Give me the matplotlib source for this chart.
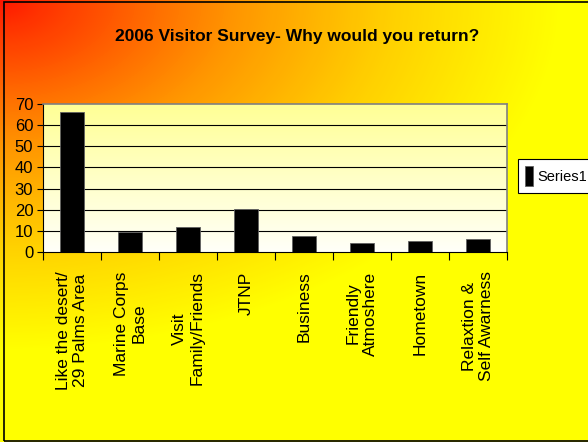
import numpy as np
import matplotlib.pyplot as plt
from matplotlib.colors import LinearSegmentedColormap
from matplotlib.patches import Rectangle
from matplotlib.legend_handler import HandlerPatch

# survey answers
reasons = [
    "Like the desert/\n29 Palms Area",
    "Marine Corps\nBase",
    "Visit\nFamily/Friends",
    "JTNP",
    "Business",
    "Friendly\nAtmoshere",
    "Hometown",
    "Relaxtion &\nSelf Awarness",
]
responses = [66, 9.5, 12, 20.5, 7.7, 4.4, 5.4, 6]
yticks = [0, 10, 20, 30, 40, 50, 60, 70]

narrow = ["Liberation Sans Narrow", "Liberation Sans", "DejaVu Sans"]

fig = plt.figure(figsize=(5.88, 4.42), dpi=100)

# red -> orange -> yellow corner gradient behind everything
bg = fig.add_axes([0, 0, 1, 1], zorder=-10)
W, H = 588, 442
xx, yy = np.meshgrid(np.arange(W), np.arange(H))
t = np.clip(np.sqrt((xx / 560.0) ** 2 + (yy / 350.0) ** 2), 0, 1) ** 0.8
warm = LinearSegmentedColormap.from_list(
    "warm", ["#ff1400", "#ff5000", "#ff9600", "#ffd000", "#ffff00"])
bg.imshow(t, cmap=warm, aspect="auto", extent=[0, 1, 0, 1], origin="upper")
bg.set_axis_off()
bg.set_xlim(0, 1)
bg.set_ylim(0, 1)
fig.patches.append(Rectangle((3.5 / W, 1.5 / H), 1.2, 1 - 3.5 / H,
                             transform=fig.transFigure, fill=False,
                             edgecolor="black", linewidth=1.2))

ax = fig.add_axes([43 / W, 1 - 252 / H, 464 / W, 148 / H])
x = np.arange(len(reasons))
ax.set_xlim(-0.5, len(reasons) - 0.5)
ax.set_ylim(0, 70)

# plot area: pale yellow fading to white toward the bottom
fade = LinearSegmentedColormap.from_list("fade", ["#fffff8", "#ffff96"])
ax.imshow(np.linspace(0, 1, 100).reshape(-1, 1), cmap=fade, aspect="auto",
          extent=[-0.5, len(reasons) - 0.5, 0, 70], origin="lower", zorder=0)

for yv in yticks[1:-1]:
    ax.axhline(yv, color="black", linewidth=0.8, zorder=1)

bars = ax.bar(x, responses, width=0.4, color="black", edgecolor="#606060",
              linewidth=0.6, zorder=2, label="Series1")

ax.set_yticks(yticks)
ax.set_yticklabels([str(v) for v in yticks], fontsize=12, family=narrow)
ax.tick_params(axis="y", direction="out", length=4, width=0.8, pad=3)

ax.set_xticks(x)
ax.set_xticklabels(reasons, rotation=90, fontsize=12.5, family=narrow,
                   ha="center", va="top", multialignment="center")
ax.tick_params(axis="x", which="major", length=0, pad=14)
ax.set_xticks(np.arange(len(reasons) + 1) - 0.5, minor=True)
ax.tick_params(axis="x", which="minor", direction="out", length=6, width=0.8)

for side in ("left", "bottom"):
    ax.spines[side].set_color("black")
for side in ("top", "right"):
    ax.spines[side].set_color("#808080")
    ax.spines[side].set_linewidth(1.2)

fig.text(297 / W, 1 - 37 / H, "2006 Visitor Survey- Why would you return?",
         ha="center", va="center", fontsize=12.5, fontweight="bold", family=narrow)


def small_square(legend, orig_handle, xdescent, ydescent, width, height, fontsize):
    side = 0.75 * fontsize
    return Rectangle((-xdescent + (width - side * 0.8) / 2,
                      -ydescent + (height - side) / 2), side * 0.8, side)


leg = fig.legend(loc="upper left", bbox_to_anchor=(518 / W, 1 - 159 / H),
                 frameon=True, fancybox=False, framealpha=1, edgecolor="black",
                 handlelength=0.6, handleheight=1.8, handletextpad=0.3,
                 borderpad=0.45, borderaxespad=0,
                 handler_map={type(bars.patches[0]): HandlerPatch(patch_func=small_square)},
                 prop={"family": narrow, "size": 10.5})
leg.get_frame().set_linewidth(0.8)

fig.savefig("out.png", dpi=100)
